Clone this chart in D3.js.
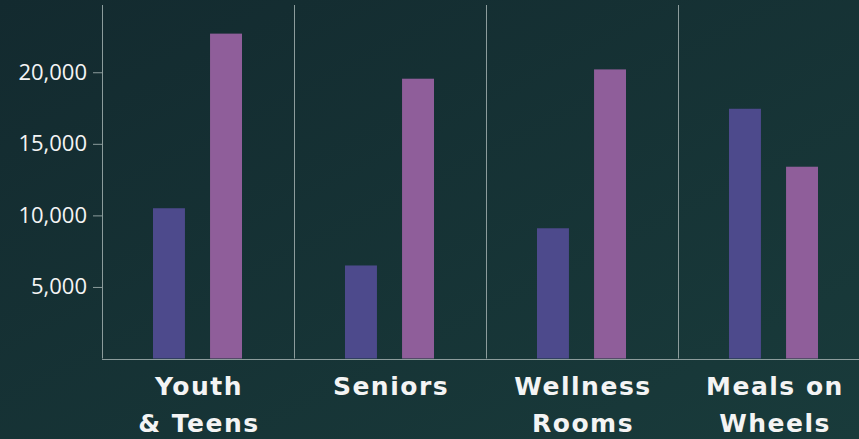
<!DOCTYPE html>
<html>
<head>
<meta charset="utf-8">
<script src="https://cdn.jsdelivr.net/npm/d3@7"></script>
<style>
  html, body { margin: 0; padding: 0; background: #152e32; overflow: hidden; }
</style>
</head>
<body>
<div id="chart"></div>
<script>
// --- DATA ---
const categories = ["Youth|& Teens", "Seniors", "Wellness|Rooms", "Meals on|Wheels"];
const seriesNames = ["A", "B"];
const seriesA = [10500, 6500, 9100, 17450];
const seriesB = [22700, 19550, 20200, 13400];
const yTicks = [5000, 10000, 15000, 20000];
const colors = ["#4d4a8c", "#8f5e9a"];

const width = 859;
const height = 439;
const margin = { top: 5, right: -11, bottom: 80, left: 102 };

const svg = d3.select("#chart")
    .append("svg")
    .attr("width", width)
    .attr("height", height)
    .attr("viewBox", [0, 0, width, height]);

// background gradient
const defs = svg.append("defs");
const grad = defs.append("linearGradient")
    .attr("id", "bg")
    .attr("x1", "0%").attr("y1", "0%")
    .attr("x2", "100%").attr("y2", "100%");
grad.append("stop").attr("offset", "0%").attr("stop-color", "#132a2f");
grad.append("stop").attr("offset", "100%").attr("stop-color", "#193b3b");
svg.append("rect")
    .attr("width", width)
    .attr("height", height)
    .attr("fill", "url(#bg)");

const rows = categories.map((c, i) => ({ cat: c, vals: [seriesA[i], seriesB[i]] }));

// --- SCALES ---
const x = d3.scaleBand()
    .domain(categories)
    .range([margin.left, width - margin.right])
    .padding(0);

const xInner = d3.scaleBand()
    .domain(seriesNames)
    .range([51, 140])
    .paddingInner(0.44)
    .paddingOuter(0);

const y = d3.scaleLinear()
    .domain([0, 24700])
    .range([height - margin.bottom - 0.5, margin.top]);

// --- Y AXIS ---
svg.append("g")
    .attr("transform", `translate(${margin.left},0)`)
    .call(d3.axisLeft(y)
        .tickValues(yTicks)
        .tickSize(9)
        .tickPadding(6)
        .tickFormat(d3.format(",")))
    .call(g => g.select(".domain").remove())
    .call(g => g.selectAll(".tick line").attr("stroke", "#8c9c9c"))
    .call(g => g.selectAll(".tick text")
        .attr("fill", "#f4f4f4")
        .attr("font-family", "'Open Sans', sans-serif")
        .attr("font-size", "22px")
        .attr("font-weight", 500));

// vertical lines: axis + separators
const sepX = [margin.left].concat(categories.slice(1).map(c => x(c)));
svg.append("g")
    .selectAll("line")
    .data(sepX)
    .join("line")
    .attr("x1", d => Math.round(d) + 0.5)
    .attr("x2", d => Math.round(d) + 0.5)
    .attr("y1", y.range()[1])
    .attr("y2", y(0))
    .attr("stroke", "#8c9c9c")
    .attr("stroke-width", 1);

// --- BARS ---
const groups = svg.append("g")
    .selectAll("g")
    .data(rows)
    .join("g")
    .attr("transform", d => `translate(${x(d.cat)},0)`);

groups.selectAll("rect")
    .data(d => d.vals.map((v, i) => ({ key: seriesNames[i], v, i })))
    .join("rect")
    .attr("x", d => xInner(d.key))
    .attr("width", xInner.bandwidth())
    .attr("y", d => y(d.v))
    .attr("height", d => y(0) - y(d.v))
    .attr("fill", d => colors[d.i]);

// baseline
svg.append("line")
    .attr("x1", margin.left)
    .attr("x2", width)
    .attr("y1", Math.round(y(0)) + 0.5)
    .attr("y2", Math.round(y(0)) + 0.5)
    .attr("stroke", "#8c9c9c");

// --- CATEGORY LABELS ---
const labels = svg.append("g")
    .selectAll("text")
    .data(categories)
    .join("text")
    .attr("x", d => x(d) + x.bandwidth() / 2 + 1)
    .attr("y", 395)
    .attr("text-anchor", "middle")
    .attr("fill", "#f4f4f4")
    .style("font-family", "'DejaVu Sans', sans-serif")
    .style("font-size", "25px")
    .style("font-weight", "bold")
    .style("letter-spacing", "1.5px");

labels.selectAll("tspan")
    .data(d => d.split("|"))
    .join("tspan")
    .attr("x", function() { return d3.select(this.parentNode).attr("x"); })
    .attr("dy", (d, i) => i === 0 ? 0 : 37)
    .text(d => d);
</script>
</body>
</html>
